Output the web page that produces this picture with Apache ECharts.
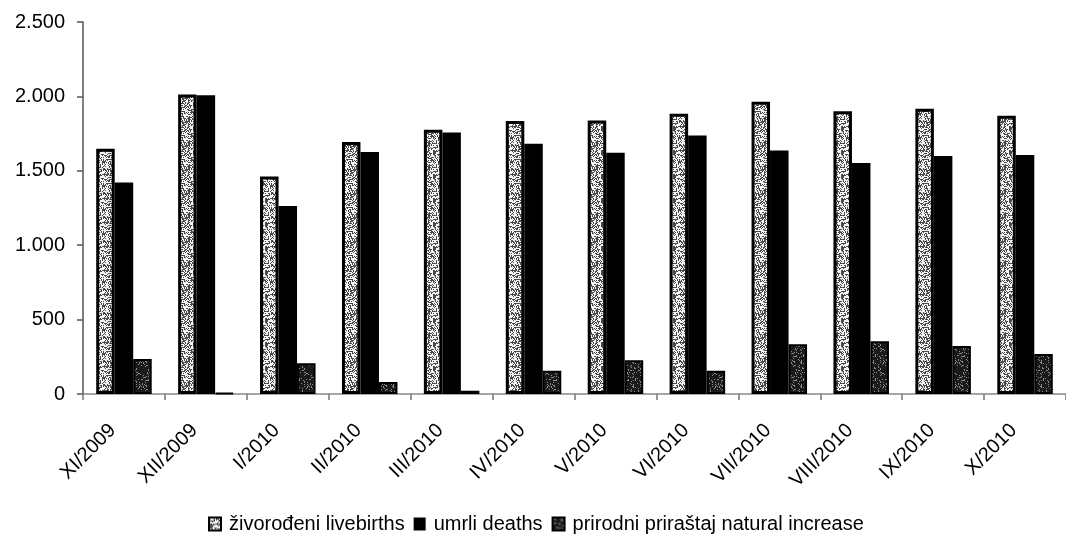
<!DOCTYPE html>
<html>
<head>
<meta charset="utf-8">
<script src="https://cdn.jsdelivr.net/npm/echarts@6/dist/echarts.min.js"></script>
<style>
html,body{margin:0;padding:0;background:#fff;}
#chart{width:1066px;height:537px;}
</style>
</head>
<body>
<div id="chart"></div>
<script>
const categories = ['XI/2009','XII/2009','I/2010','II/2010','III/2010','IV/2010','V/2010','VI/2010','VII/2010','VIII/2010','IX/2010','X/2010'];
const livebirths = [1648, 2012, 1461, 1693, 1776, 1834, 1838, 1883, 1964, 1901, 1917, 1870];
const deaths = [1421, 2008, 1264, 1627, 1758, 1681, 1621, 1737, 1636, 1553, 1600, 1607];
const naturalIncrease = [235, 6, 206, 81, 22, 157, 226, 157, 334, 354, 323, 268];
const yTicks = [0, 500, 1000, 1500, 2000, 2500];
const seriesNames = ['živorođeni livebirths', 'umrli deaths', 'prirodni priraštaj natural increase'];

function hash(x, y, s) {
  let h = (x * 374761393 + y * 668265263 + s * 2147483647) | 0;
  h = (h ^ (h >>> 13)) * 1274126177 | 0;
  h = h ^ (h >>> 16);
  return ((h >>> 0) % 1000) / 1000;
}
function makePattern(bg, dot, density, seed) {
  const c = document.createElement('canvas');
  c.width = 24; c.height = 24;
  const ctx = c.getContext('2d');
  ctx.fillStyle = bg; ctx.fillRect(0, 0, 24, 24);
  ctx.fillStyle = dot;
  for (let y = 0; y < 24; y++) {
    for (let x = 0; x < 24; x++) {
      if (hash(x, y, seed) < density) ctx.fillRect(x, y, 1, 1);
    }
  }
  return c;
}
const livePattern = makePattern('#f4f4f4', '#4a4a4a', 0.42, 7);
const natPattern = makePattern('#1a1a1a', '#8a8a8a', 0.18, 13);

const chart = echarts.init(document.getElementById('chart'));
const font = 'Arial, "Liberation Sans", sans-serif';
chart.setOption({
  animation: false,
  backgroundColor: '#fff',
  grid: { left: 83, top: 22, width: 992, bottom: 143, containLabel: false },
  legend: {
    top: 514,
    left: 208,
    padding: 0,
    itemWidth: 12,
    itemHeight: 13,
    itemGap: 9,
    textStyle: { fontFamily: font, fontSize: 20, color: '#000', padding: [0, 0, 0, 3] },
    data: seriesNames.map(n => ({ name: n, icon: 'rect' }))
  },
  xAxis: {
    type: 'category',
    data: categories,
    axisLine: { lineStyle: { color: '#888', width: 1.5 } },
    axisTick: { show: true, length: 6, lineStyle: { color: '#777', width: 1.5 } },
    axisLabel: { rotate: 45, fontFamily: font, fontSize: 20, color: '#000', margin: 22, interval: 0, padding: [0, 16, 0, 0] }
  },
  yAxis: {
    type: 'value',
    min: 0, max: 2500, interval: 500,
    axisLine: { show: true, lineStyle: { color: '#555', width: 1.5 } },
    axisTick: { show: true, length: 6, lineStyle: { color: '#555', width: 1.5 } },
    splitLine: { show: false },
    axisLabel: {
      fontFamily: font, fontSize: 20, color: '#000', margin: 18,
      formatter: v => yTicks.includes(v) ? String(v).replace(/\B(?=(\d{3})+(?!\d))/g, '.') : ''
    }
  },
  series: [
    {
      name: seriesNames[0], type: 'bar', data: livebirths,
      barWidth: 18.5, barGap: '0%',
      itemStyle: { color: { image: livePattern, repetition: 'repeat' }, borderColor: '#000', borderWidth: 3 }
    },
    {
      name: seriesNames[1], type: 'bar', data: deaths,
      barWidth: 18.5, barGap: '0%',
      itemStyle: { color: '#000', borderColor: '#000', borderWidth: 0 }
    },
    {
      name: seriesNames[2], type: 'bar', data: naturalIncrease,
      barWidth: 18.5, barGap: '0%',
      itemStyle: { color: { image: natPattern, repetition: 'repeat' }, borderColor: '#000', borderWidth: 2 }
    }
  ]
});
</script>
</body>
</html>
